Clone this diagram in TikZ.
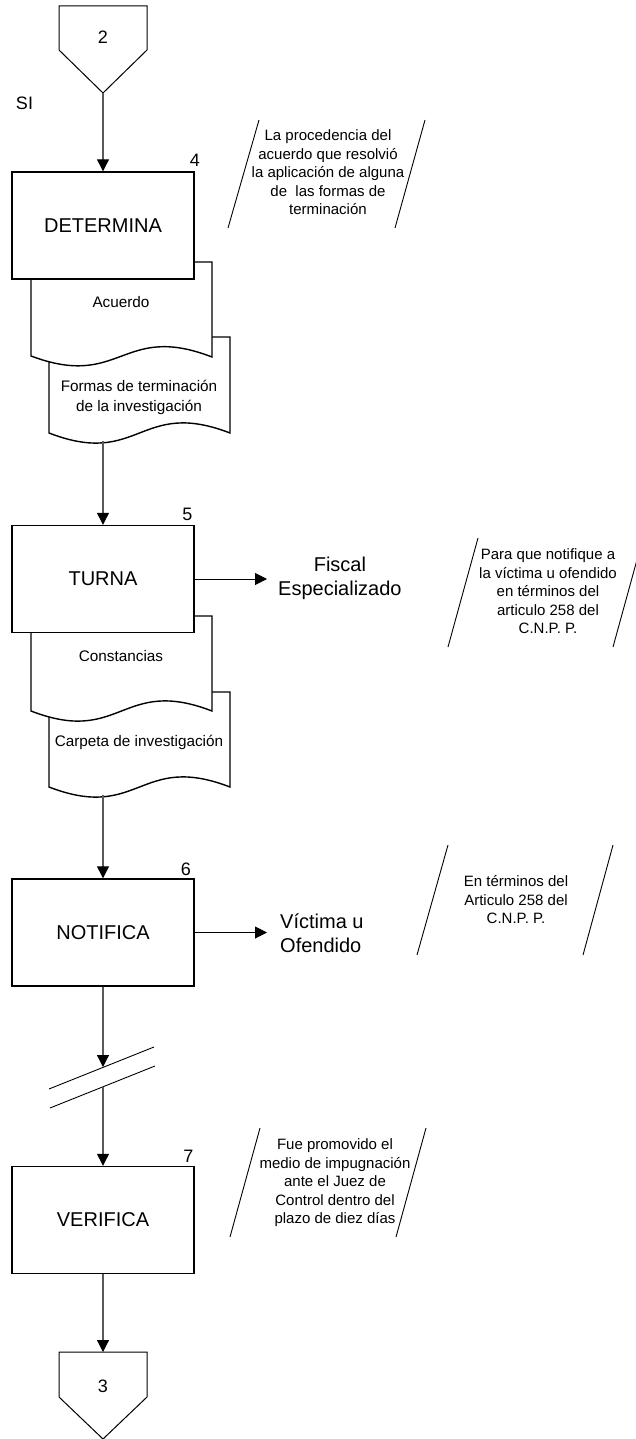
\documentclass[tikz,border=0pt]{standalone}
\usepackage{fontspec}
\setmainfont{Liberation Sans}
\usetikzlibrary{arrows.meta}
\definecolor{lnk}{RGB}{90,90,90}
\begin{document}
\begin{tikzpicture}[x=1pt,y=-1pt,
  procbox/.style={draw=black, line width=1.4pt, fill=white, minimum width=182pt, minimum height=107pt, inner sep=0pt, font=\fontsize{20}{24}\selectfont},
  flow/.style={draw=lnk, line width=1.2pt, -{Triangle[length=12pt,width=12pt,color=black]}},
  hflow/.style={draw=black, line width=1pt, -{Triangle[length=12pt,width=12pt,color=black]}},
  docshape/.style={draw=black, line width=1.4pt, fill=white},
  pageconn/.style={draw=black, line width=1pt, fill=white},
  slashline/.style={draw=black, line width=0.9pt},
  note/.style={font=\fontsize{15}{18.5}\selectfont, align=center, inner sep=0pt},
  doctext/.style={font=\fontsize{15.3}{20}\selectfont, align=center, inner sep=0pt},
  stepnum/.style={font=\fontsize{18}{20}\selectfont, anchor=base, inner sep=0pt},
  bigtext/.style={font=\fontsize{20}{24}\selectfont, inner sep=0pt},
  target/.style={font=\fontsize{20}{24}\selectfont, anchor=west, inner ysep=0pt}
]
\useasboundingbox (0,0) rectangle (635,1439);

% off-page connector 2
\draw[pageconn] (59,6) -- (147,6) -- (147,50) -- (103,93) -- (59,50) -- cycle;
\node[bigtext, font=\fontsize{18}{20}\selectfont] (c2) at (103,37) {2};
\coordinate (c2tip) at (103,93);
\node[bigtext, font=\fontsize{18}{20}\selectfont] (si) at (24.5,103) {SI};

% documents under DETERMINA
\draw[docshape] (49,337) -- (230,337) -- (230,433) .. controls (139.5,398) and (139.5,468) .. (49,433) -- cycle;
\draw[docshape] (31,262) -- (212,262) -- (212,357) .. controls (121.5,322) and (121.5,390) .. (31,356) -- cycle;
\node[doctext] (d1) at (121,302) {Acuerdo};
\node[doctext] (d2) at (139,397) {Formas de terminación\\de la investigación};
\coordinate (d2b) at (103,441);

\node[procbox] (det) at (103,225.5) {DETERMINA};
\node[stepnum] (n4) at (195,167) {4};

% documents under TURNA
\draw[docshape] (49,692) -- (230,692) -- (230,787) .. controls (139.5,752) and (139.5,822) .. (49,787) -- cycle;
\draw[docshape] (31,616) -- (212,616) -- (212,711) .. controls (121.5,676) and (121.5,746) .. (31,711) -- cycle;
\node[doctext] (d3) at (121,656) {Constancias};
\node[doctext] (d4) at (139,742) {Carpeta de investigación};
\coordinate (d4b) at (103,795);

\node[procbox] (tur) at (103,579) {TURNA};
\node[stepnum] (n5) at (187.5,520) {5};

\node[procbox] (not) at (103,932.5) {NOTIFICA};
\node[stepnum] (n6) at (186,875) {6};

\node[procbox] (ver) at (103,1220) {VERIFICA};
\node[stepnum] (n7) at (188.5,1162) {7};

% off-page connector 3
\draw[pageconn] (59,1352) -- (147,1352) -- (147,1397) -- (103,1439) -- (59,1397) -- cycle;
\node[bigtext, font=\fontsize{18}{20}\selectfont] (c3) at (103,1386) {3};
\coordinate (c3top) at (103,1352);

% targets
\node[target, align=center, inner xsep=11pt] (fisc) at (267,578) {Fiscal\\Especializado};
\node[target, align=left, inner xsep=13pt] (vict) at (267,933) {Víctima u\\Ofendido};

% break symbol
\draw[slashline] (49,1089) -- (154,1047);
\draw[slashline] (50,1108) -- (155,1066);
\coordinate (brk1) at (103,1067);
\coordinate (brk2) at (103,1087);

% connectors
\draw[flow] (c2tip) -- (det.north);
\draw[flow] (d2b) -- (tur.north);
\draw[flow] (d4b) -- (not.north);
\draw[flow] (not.south) -- (brk1);
\draw[flow] (brk2) -- (ver.north);
\draw[flow] (ver.south) -- (c3top);
\draw[hflow] (tur.east) -- (tur.east -| fisc.west);
\draw[hflow] (not.east) -- (not.east -| vict.west);

% annotations
\draw[slashline] (259,120) -- (228,228);
\draw[slashline] (425,120) -- (395,228);
\node[note] (a1) at (328,172.5) {La procedencia del\\acuerdo que resolvió\\la aplicación de alguna\\de \ las formas de\\terminación};

\draw[slashline] (478,538) -- (448,647);
\draw[slashline] (643,538) -- (613,647);
\node[note] (a2) at (548,591.5) {Para que notifique a\\la víctima u ofendido\\en términos del\\articulo 258 del\\C.N.P. P.};

\draw[slashline] (448,845) -- (417,955);
\draw[slashline] (613,845) -- (583,955);
\node[note] (a3) at (516,900) {En términos del\\Articulo 258 del\\C.N.P. P.};

\draw[slashline] (260,1128) -- (230,1237);
\draw[slashline] (426,1128) -- (396,1237);
\node[note] (a4) at (335,1183) {Fue promovido el\\medio de impugnación\\ante el Juez de\\Control dentro del\\plazo de diez días};
\end{tikzpicture}
\end{document}
